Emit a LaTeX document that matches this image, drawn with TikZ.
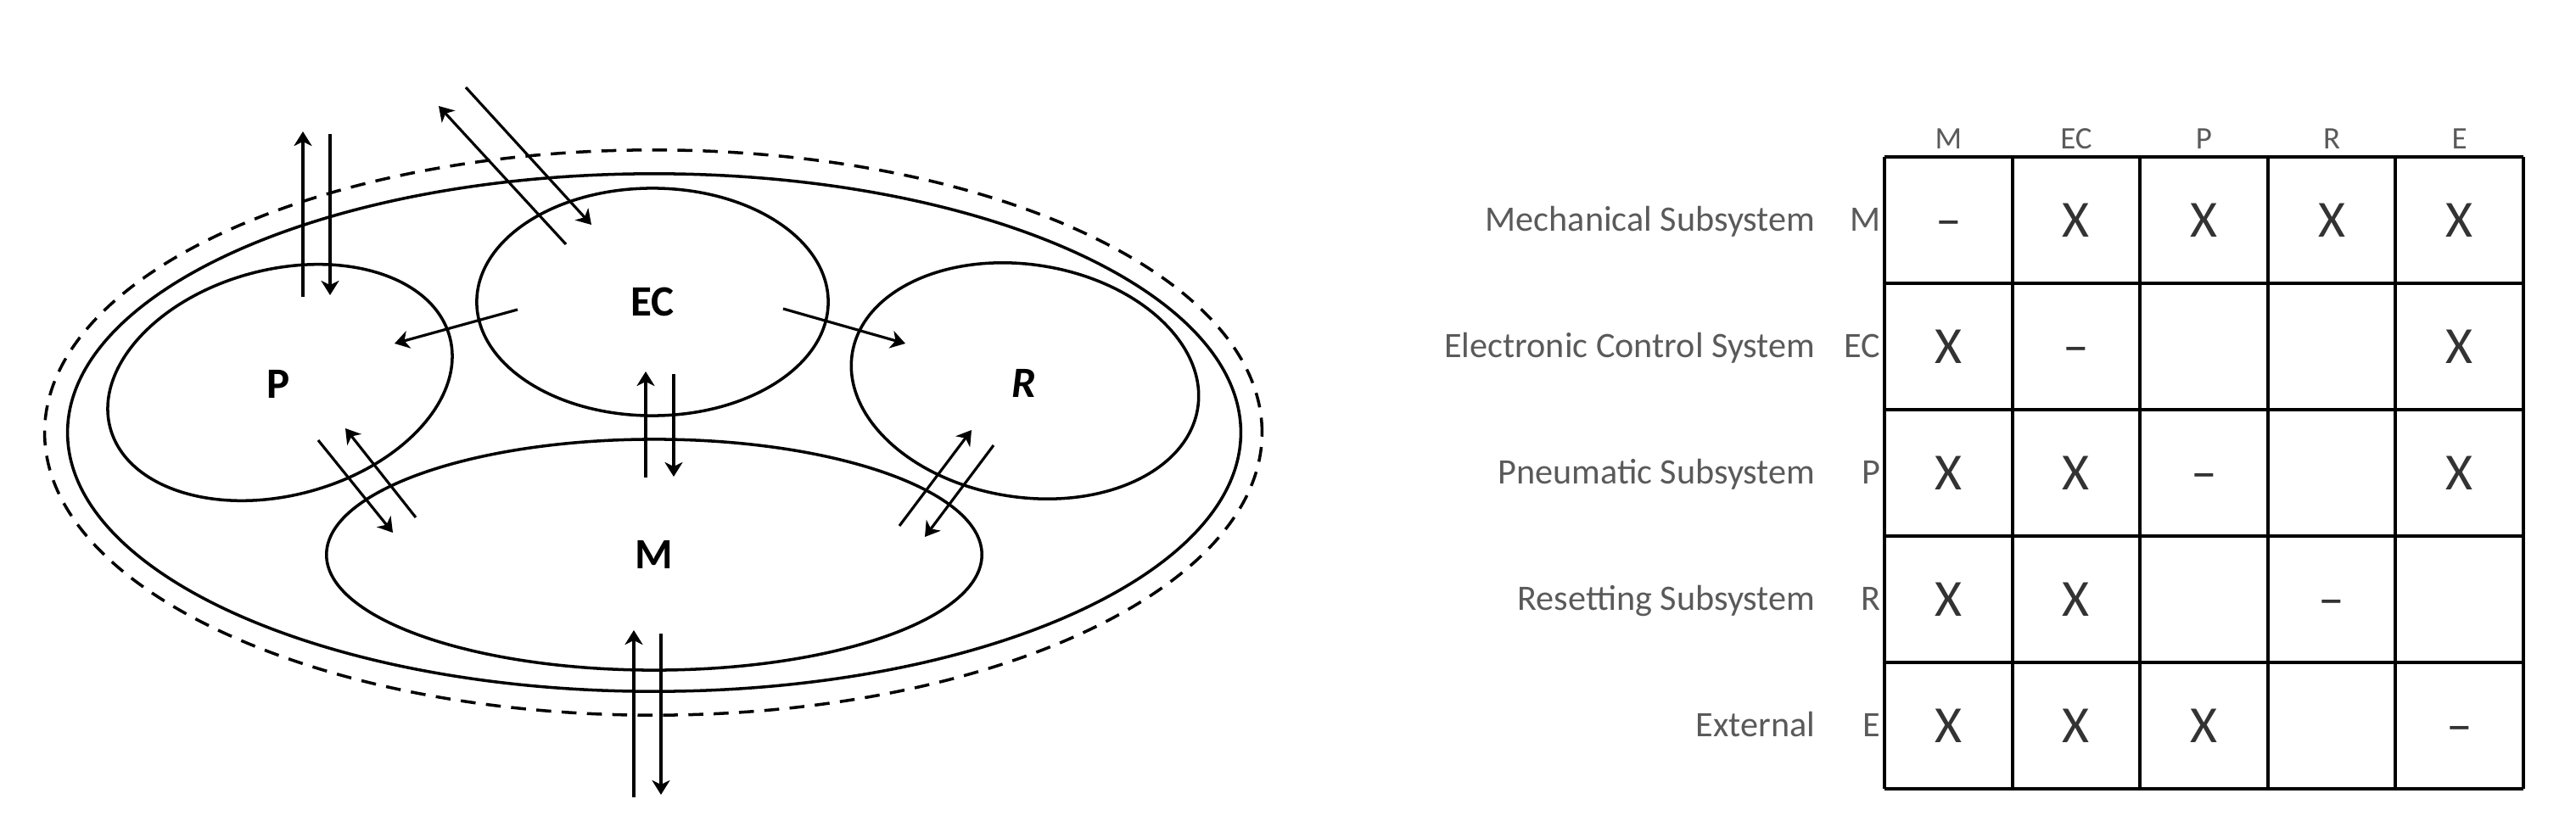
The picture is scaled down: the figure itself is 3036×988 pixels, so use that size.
\documentclass[tikz,border=0pt]{standalone}
\usepackage{fontspec}
\setmainfont{Carlito}
\usetikzlibrary{arrows.meta,positioning,shapes.geometric}
\definecolor{txtgray}{HTML}{5A5A5A}
\definecolor{markgray}{HTML}{333333}
\tikzset{
subsys/.style={draw,ellipse,inner sep=0pt,line width=1pt},
envelope/.style={draw,ellipse,inner sep=0pt,line width=1pt,dash pattern=on 5pt off 3.5pt},
syslabel/.style={inner sep=0pt,font=\fontsize{14.5}{16}\selectfont\bfseries},
flow/.style={-{Stealth[length=1.7mm,width=2.1mm,inset=.5mm]},line width=.9pt},
rowname/.style={anchor=base east,inner sep=0pt,text=txtgray,font=\fontsize{12}{14}\selectfont},
colname/.style={inner sep=0pt,text=txtgray,font=\fontsize{10.5}{12}\selectfont},
cellmark/.style={anchor=base,inner sep=0pt,text=markgray,font=\fontsize{17.5}{20}\selectfont}
}
\begin{document}
\begin{tikzpicture}[x=.01cm,y=-.01cm]
\useasboundingbox (0,0) rectangle (3036,988);
% system boundary
\node[envelope,minimum width=14.34cm,minimum height=6.66cm] (env) at (770,510) {};
\node[subsys,minimum width=13.82cm,minimum height=6.10cm] (sys) at (771,510) {};
% subsystems
\node[subsys,syslabel,minimum width=4.14cm,minimum height=2.68cm] (ec) at (769,356) {EC};
\node[subsys,syslabel,minimum width=7.72cm,minimum height=2.72cm] (m) at (771,654) {M};
\node[subsys,minimum width=4.14cm,minimum height=2.66cm,rotate=15] (p) at (330,451) {};
\node[syslabel] (plbl) at (328,453) {P};
\node[subsys,minimum width=4.12cm,minimum height=2.74cm,rotate=-9] (r) at (1208,449) {};
\node[syslabel] (rlbl) at (1207,452) {\itshape R};
% interactions
\foreach \nm/\ax/\ay/\bx/\by in {pup/357/350/357/155,pdn/389/158/389/348,
  ecup/667/288/517/125,ecdn/549/103/697/265,ecp/610/365/465/405,ecr/923/364/1067/405,
  mup/761/563/761/438,mdn/794/441/794/562,pmdn/375/519/463/628,pmup/490/610/407/505,
  rmup/1060/620/1145/507,rmdn/1171/525/1090/633,extup/747/940/747/743,extdn/779/747/779/937}{
  \coordinate (\nm-a) at (\ax,\ay);
  \coordinate (\nm-b) at (\bx,\by);
  \draw[flow] (\nm-a) -- (\nm-b);
}
% DSM grid
\foreach \i in {0,...,5}
  \draw[line width=1.4pt] (2221,185+149*\i) -- (2974,185+149*\i);
\foreach \x in {2221,2372,2522,2673,2823,2974}
  \draw[line width=.9pt] (\x,185) -- (\x,930);
\foreach \c/\t in {1/M,2/EC,3/P,4/R,5/E}
  \node[colname] (h\c) at (2221+150.6*\c-75.3,164) {\t};
\foreach \r/\nm/\ab in {1/Mechanical Subsystem/M,2/Electronic Control System/EC,3/Pneumatic Subsystem/P,4/Resetting Subsystem/R,5/External/E}{
  \node[rowname] (n\r) at (2140,185+149*\r-61.5) {\nm};
  \node[rowname] (a\r) at (2217,185+149*\r-61.5) {\ab};
}
\foreach \c/\r/\t in {1/1/–,2/1/X,3/1/X,4/1/X,5/1/X,1/2/X,2/2/–,5/2/X,1/3/X,2/3/X,3/3/–,5/3/X,
  1/4/X,2/4/X,4/4/–,1/5/X,2/5/X,3/5/X,5/5/–}
  \node[cellmark] (c\c-\r) at (2221+150.6*\c-75.3,185+149*\r-54.5) {\t};
\end{tikzpicture}
\end{document}
